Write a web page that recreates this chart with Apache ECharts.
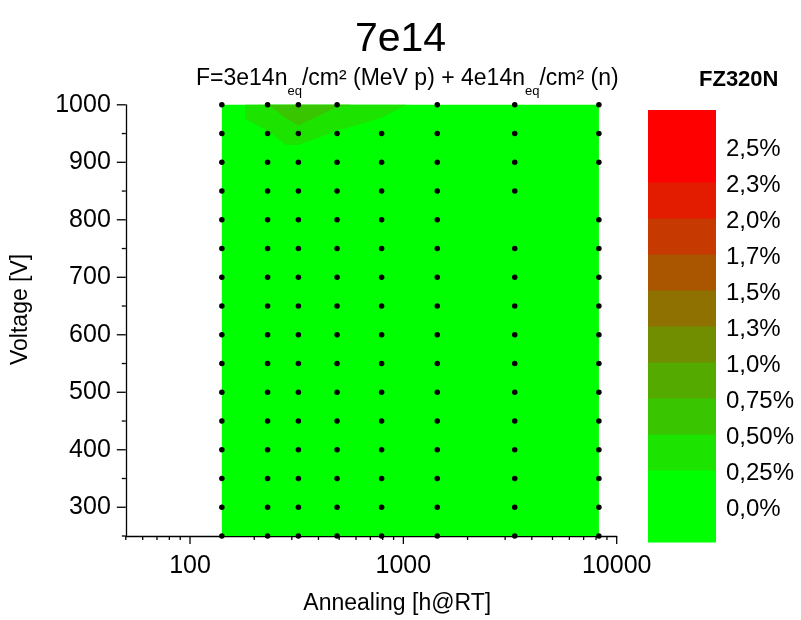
<!DOCTYPE html>
<html><head><meta charset="utf-8">
<script src="https://cdn.jsdelivr.net/npm/echarts@6/dist/echarts.min.js"></script>
<style>html,body{margin:0;padding:0;background:#fff}#c{width:801px;height:620px}</style>
</head><body><div id="c"></div>
<script>
// ---------- data ----------
const annealTimes = [141, 231, 322, 489, 791, 1442, 3327, 8253];
const voltages = [250, 300, 350, 400, 450, 500, 550, 600, 650, 700, 750, 800, 850, 900, 950, 1000];
// colour-map value (%) at each grid node: one row per voltage (ascending), one entry per annealing time
const mapValues = [
  [0, 0, 0, 0, 0, 0, 0, 0],
  [0, 0, 0, 0, 0, 0, 0, 0],
  [0, 0, 0, 0, 0, 0, 0, 0],
  [0, 0, 0, 0, 0, 0, 0, 0],
  [0, 0, 0, 0, 0, 0, 0, 0],
  [0, 0, 0, 0, 0, 0, 0, 0],
  [0, 0, 0, 0, 0, 0, 0, 0],
  [0, 0, 0, 0, 0, 0, 0, 0],
  [0, 0, 0, 0, 0, 0, 0, 0],
  [0, 0, 0, 0, 0, 0, 0, 0],
  [0, 0, 0, 0, 0, 0, 0, 0],
  [0, 0, 0, 0, 0, 0, 0, 0],
  [0, 0, 0, 0, 0, 0, 0, 0],
  [0, 0, 0, 0, 0, 0, 0, 0],
  [0, 0.227, 0.417, 0.211, 0, 0, 0, 0],
  [0, 0.49, 0.715, 0.522, 0.455, 0, 0, 0]
];
// grid nodes without a measurement marker
const missingPoints = [[791, 1000], [3327, 800], [8253, 850]];
const levels = [0.25, 0.5, 0.75, 1.0, 1.25, 1.5, 1.75, 2.0, 2.25];
const bandColors = ['#00ff00', '#1ce300', '#39c600', '#55aa00', '#718e00', '#8e7100', '#aa5500', '#c63900', '#e31c00', '#ff0000'];
const legendMin = -0.25, legendMax = 2.75;
const legendTickValues = [0, 0.25, 0.5, 0.75, 1, 1.25, 1.5, 1.75, 2, 2.25, 2.5];
const legendTickLabels = ['0,0%', '0,25%', '0,50%', '0,75%', '1,0%', '1,3%', '1,5%', '1,7%', '2,0%', '2,3%', '2,5%'];
const xMajorTicks = [100, 1000, 10000];
const xMinorTicks = [50, 60, 70, 80, 90, 200, 300, 400, 500, 600, 700, 800, 900, 2000, 3000, 4000, 5000, 6000, 7000, 8000, 9000];
const yMajorTicks = [300, 400, 500, 600, 700, 800, 900, 1000];
const yMinorTicks = [250, 350, 450, 550, 650, 750, 850, 950];
const xMin = 50, xMax = 10000, yMin = 250, yMax = 1000;

// ---------- helpers ----------
const FONT = 'Arial, "Liberation Sans", sans-serif';
const isMissing = (t, v) => missingPoints.some(p => p[0] === t && p[1] === v);
const dots = [];
voltages.forEach(v => annealTimes.forEach(t => { if (!isMissing(t, v)) dots.push([t, v]); }));

function clipTri(tri, L) {
  const out = [];
  for (let i = 0; i < tri.length; i++) {
    const a = tri[i], b = tri[(i + 1) % tri.length];
    const ina = a[2] >= L, inb = b[2] >= L;
    if (ina) out.push(a);
    if (ina !== inb) {
      const f = (L - a[2]) / (b[2] - a[2]);
      out.push([a[0] + f * (b[0] - a[0]), a[1] + f * (b[1] - a[1]), L]);
    }
  }
  return out;
}

function renderContours(params, api) {
  const P = voltages.map((v, r) => annealTimes.map((t, c) => {
    const p = api.coord([t, v]);
    return [p[0], p[1], mapValues[r][c]];
  }));
  const tMin = Math.min(...annealTimes), tMax = Math.max(...annealTimes);
  const vMin = Math.min(...voltages), vMax = Math.max(...voltages);
  const a = api.coord([tMin, vMin]), b = api.coord([tMax, vMax]);
  const children = [{
    type: 'rect', shape: { x: a[0], y: b[1], width: b[0] - a[0], height: a[1] - b[1] },
    style: { fill: bandColors[0] }
  }];
  levels.forEach((L, k) => {
    let d = '';
    for (let r = 0; r < voltages.length - 1; r++) {
      for (let c = 0; c < annealTimes.length - 1; c++) {
        const BL = P[r][c], BR = P[r][c + 1], TL = P[r + 1][c], TR = P[r + 1][c + 1];
        [[TL, TR, BL], [BL, TR, BR]].forEach(tri => {
          const poly = clipTri(tri, L);
          if (poly.length >= 3) {
            d += 'M' + poly.map(p => p[0].toFixed(2) + ' ' + p[1].toFixed(2)).join('L') + 'Z';
          }
        });
      }
    }
    if (d) children.push({ type: 'path', shape: { pathData: d }, style: { fill: bandColors[k + 1] } });
  });
  return { type: 'group', children };
}

function renderTicks(params, api) {
  const children = [];
  const lineStyle = { stroke: '#000', lineWidth: 1.3 };
  const addX = (vals, len) => vals.forEach(t => {
    const p = api.coord([t, yMin]);
    children.push({ type: 'line', shape: { x1: p[0], y1: p[1], x2: p[0], y2: p[1] + len }, style: lineStyle });
  });
  const addY = (vals, len) => vals.forEach(v => {
    const p = api.coord([xMin, v]);
    children.push({ type: 'line', shape: { x1: p[0], y1: p[1], x2: p[0] - len, y2: p[1] }, style: lineStyle });
  });
  addX(xMajorTicks, 8); addX(xMinorTicks, 4);
  addY(yMajorTicks, 9); addY(yMinorTicks, 4);
  return { type: 'group', children };
}

const legendBounds = [legendMin].concat(levels, [legendMax]);
const legendBlocks = bandColors.map((col, i) => [legendBounds[i], legendBounds[i + 1], i]);

function renderLegend(params, api) {
  const lo = api.value(0), hi = api.value(1), idx = api.value(2);
  const p0 = api.coord([0, lo]), p1 = api.coord([1, hi]);
  return {
    type: 'rect',
    shape: { x: p0[0], y: p1[1], width: p1[0] - p0[0], height: p0[1] - p1[1] + 0.5 },
    style: { fill: bandColors[idx] }
  };
}

const chart = echarts.init(document.getElementById('c'), null, { renderer: 'canvas' });
chart.setOption({
  backgroundColor: '#fff',
  animation: false,
  title: [
    { text: '7e14', left: 'center', top: 14, textStyle: { fontFamily: FONT, fontSize: 41, fontWeight: 'normal', color: '#000' } },
    {
      text: '{a|F=3e14n}{b|eq}{a|/cm² (MeV p) + 4e14n}{b|eq}{a|/cm² (n)}',
      left: 191, top: 61,
      textStyle: {
        fontWeight: 'normal',
        rich: {
          a: { fontFamily: FONT, fontSize: 23, fontWeight: 'normal', color: '#000', lineHeight: 26 },
          b: { fontFamily: FONT, fontSize: 13, fontWeight: 'normal', color: '#000', lineHeight: 26, verticalAlign: 'top', padding: [19, 0, 0, 0] }
        }
      }
    },
    { text: 'FZ320N', left: 694, top: 64, textStyle: { fontFamily: FONT, fontSize: 22, fontWeight: 'bold', color: '#000' } }
  ],
  grid: [
    { left: 125.8, top: 104.8, width: 490.9, height: 433, containLabel: false },
    { left: 648, top: 110, width: 68, height: 432, containLabel: false }
  ],
  xAxis: [
    {
      gridIndex: 0, type: 'log', logBase: 10, min: xMin, max: xMax,
      axisLine: { show: true, lineStyle: { color: '#000', width: 1.3 } },
      axisTick: { show: false }, splitLine: { show: false },
      axisLabel: {
        show: true, margin: 18, fontFamily: FONT, fontSize: 25, color: '#000',
        formatter: v => (xMajorTicks.indexOf(Math.round(v)) >= 0 ? String(Math.round(v)) : '')
      },
      name: 'Annealing [h@RT]', nameLocation: 'middle', nameGap: 56,
      nameTextStyle: { fontFamily: FONT, fontSize: 23, color: '#000', padding: [0, 0, 0, 52] }
    },
    { gridIndex: 1, type: 'value', min: 0, max: 1, show: false }
  ],
  yAxis: [
    {
      gridIndex: 0, type: 'value', min: yMin, max: yMax, interval: 50,
      axisLine: { show: true, lineStyle: { color: '#000', width: 1.3 } },
      axisTick: { show: false }, splitLine: { show: false },
      axisLabel: {
        show: true, margin: 15, fontFamily: FONT, fontSize: 25, color: '#000',
        formatter: v => (yMajorTicks.indexOf(v) >= 0 ? String(v) : '')
      },
      name: 'Voltage [V]', nameLocation: 'middle', nameRotate: 90, nameGap: 94,
      nameTextStyle: { fontFamily: FONT, fontSize: 23, color: '#000', padding: [0, 0, 0, 22] }
    },
    {
      gridIndex: 1, type: 'value', min: legendMin, max: legendMax, interval: 0.25, position: 'right',
      axisLine: { show: false }, axisTick: { show: false }, splitLine: { show: false },
      axisLabel: {
        show: true, margin: 10, fontFamily: FONT, fontSize: 24, color: '#000',
        verticalAlign: 'top', lineHeight: 6,
        formatter: v => {
          const i = legendTickValues.findIndex(x => Math.abs(x - v) < 1e-6);
          return i >= 0 ? legendTickLabels[i] : '';
        }
      }
    }
  ],
  series: [
    { type: 'custom', xAxisIndex: 0, yAxisIndex: 0, renderItem: renderContours, data: [[annealTimes[0], voltages[0]]], silent: true, z: 1 },
    { type: 'scatter', xAxisIndex: 0, yAxisIndex: 0, data: dots, symbol: 'circle', symbolSize: 5.5, itemStyle: { color: '#000', opacity: 1 }, silent: true, z: 3 },
    { type: 'custom', xAxisIndex: 0, yAxisIndex: 0, renderItem: renderTicks, data: [[xMin, yMin]], silent: true, z: 4 },
    { type: 'custom', xAxisIndex: 1, yAxisIndex: 1, renderItem: renderLegend, data: legendBlocks, silent: true, z: 1 }
  ]
});
</script></body></html>
